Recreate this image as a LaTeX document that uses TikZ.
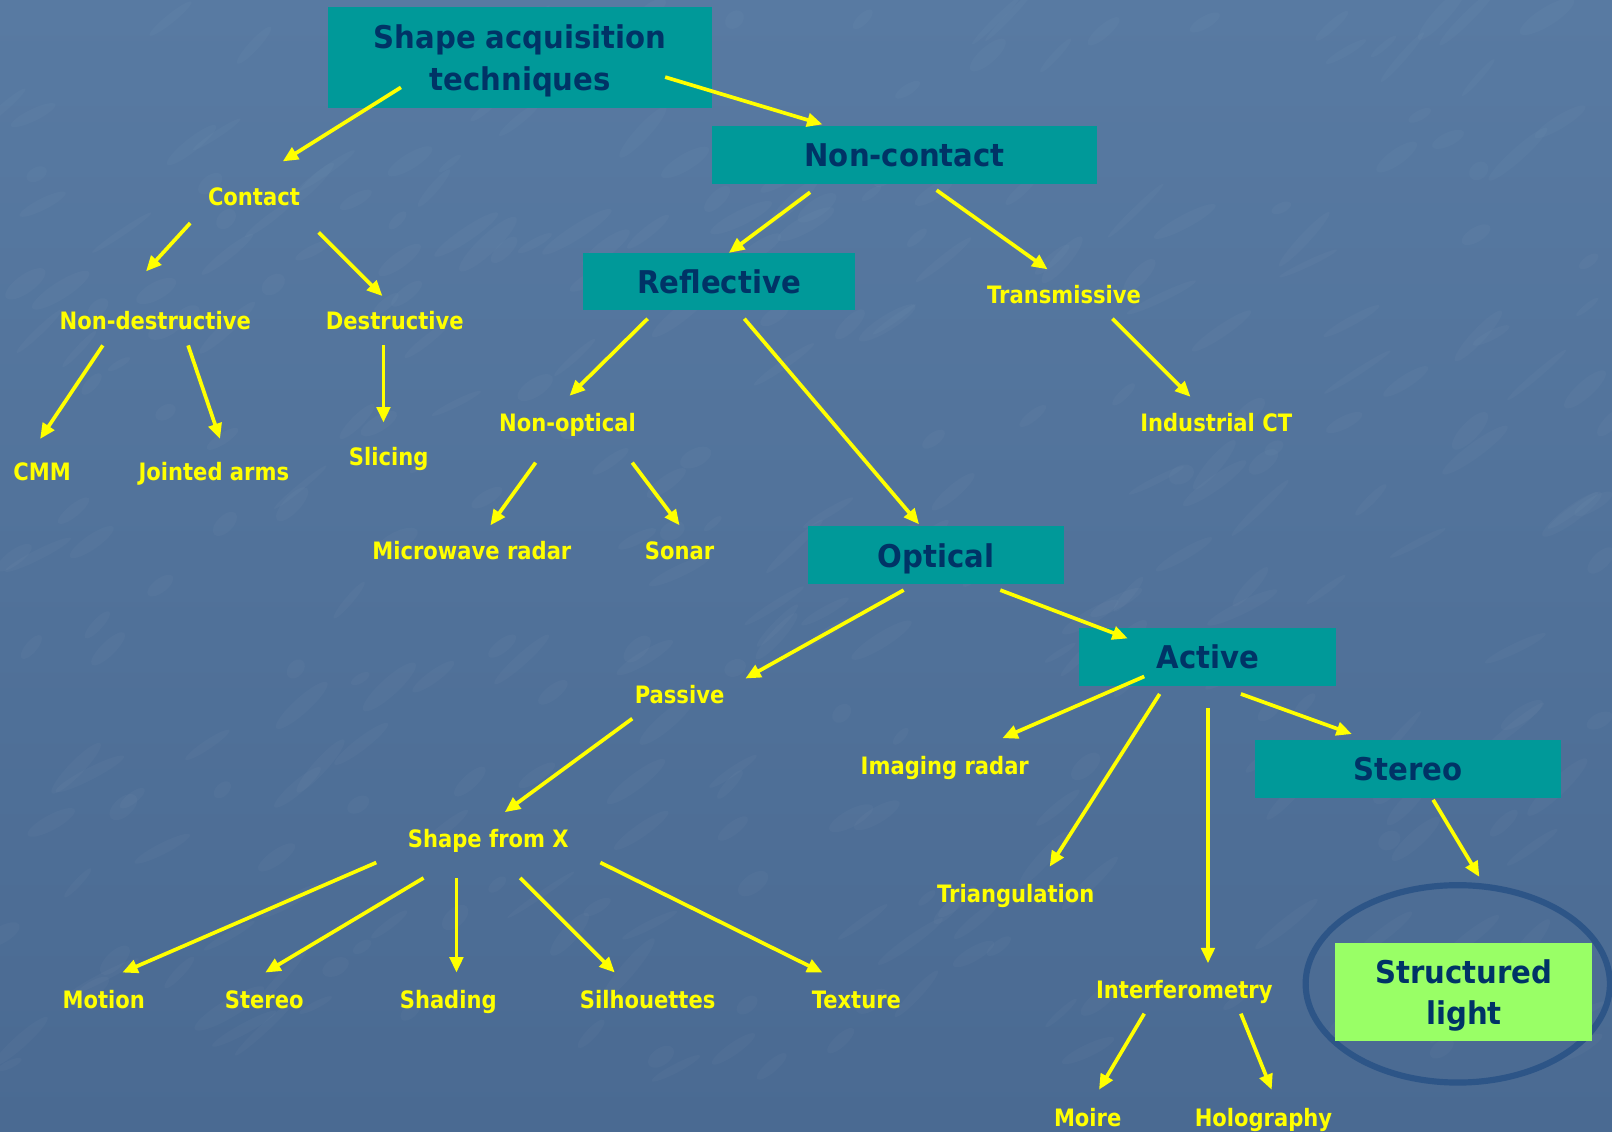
\documentclass[tikz,border=0pt]{standalone}
\usepackage{fontspec}
\setmainfont{DejaVu Sans}
\newfontfamily\lblfont{DejaVu Sans}[FakeStretch=0.88]
\newfontfamily\boxfont{DejaVu Sans}[FakeStretch=0.93]
\usetikzlibrary{arrows.meta,calc,shapes.geometric}
\definecolor{bgtop}{RGB}{88,122,162}
\definecolor{bgbot}{RGB}{74,106,146}
\definecolor{tealbox}{RGB}{0,153,153}
\definecolor{navytxt}{RGB}{0,51,102}
\definecolor{lgreen}{RGB}{153,255,102}
\definecolor{ringblue}{RGB}{45,85,135}
\definecolor{yel}{RGB}{255,255,0}
\tikzset{
  lbl/.style={text=yel,font=\lblfont\fontsize{23.3}{28}\selectfont\bfseries,inner sep=0pt,text height=17pt,text depth=0pt},
  boxn/.style={fill=tealbox,text=navytxt,font=\boxfont\fontsize{30.5}{40}\selectfont\bfseries,inner sep=0pt,align=center,text depth=0pt},
  arr/.style={draw=yel,line width=3.6pt,-{Triangle[length=15pt,width=13pt]}},
  streak/.style={fill=white,opacity=0.025}
}
\begin{document}
\begin{tikzpicture}[x=1pt,y=-1pt]
\shade[top color=bgtop,bottom color=bgbot] (0,0) rectangle (1568,1101);
\useasboundingbox (0,0) rectangle (1568,1101);
\pgfmathsetseed{11}
\foreach \i in {1,...,320}{
  \pgfmathsetmacro{\px}{rnd*1568}
  \pgfmathsetmacro{\py}{rnd*1040}
  \pgfmathsetmacro{\rl}{10+rnd*30}
  \pgfmathsetmacro{\ang}{25+rnd*25}
  \fill[streak,rotate around={\ang:(\px,\py)}] (\px,\py) ellipse ({\rl pt} and {3+rnd*6 pt});
}
% boxes
\node[boxn,minimum width=374pt,minimum height=99pt,text depth=-3pt] (title) at (506,56) {Shape acquisition\\techniques};
\node[boxn,minimum width=374pt,minimum height=56pt] (noncontact) at (880,151) {Non-contact};
\node[boxn,minimum width=265pt,minimum height=56pt] (reflective) at (699.5,274) {Reflective};
\node[boxn,minimum width=249pt,minimum height=56pt] (optical) at (910.5,540) {Optical};
\node[boxn,minimum width=250pt,minimum height=56pt] (active) at (1175,639) {Active};
\node[boxn,minimum width=297pt,minimum height=56pt] (stereob) at (1369.5,748) {Stereo};
\node[draw=ringblue,line width=6pt,ellipse,minimum width=296pt,minimum height=192pt,inner sep=0pt] (ring) at (1418,957) {};
\node[boxn,fill=lgreen,font=\boxfont\fontsize{30.5}{39}\selectfont\bfseries,minimum width=250pt,minimum height=95pt,text depth=-1pt] (structured) at (1424,965) {Structured\\light};
% labels
\node[lbl] (contact) at (247,191) {Contact};
\node[lbl] (nondestr) at (151,312) {Non-destructive};
\node[lbl] (destr) at (384,312) {Destructive};
\node[lbl] (cmm) at (41,459) {CMM};
\node[lbl] (jointed) at (208,459) {Jointed arms};
\node[lbl] (slicing) at (378,444) {Slicing};
\node[lbl] (transm) at (1035,287) {Transmissive};
\node[lbl] (indct) at (1183,411) {Industrial CT};
\node[lbl] (nonopt) at (552,411) {Non-optical};
\node[lbl] (microw) at (459,536) {Microwave radar};
\node[lbl] (sonar) at (661,536) {Sonar};
\node[lbl] (passive) at (661,676) {Passive};
\node[lbl] (imaging) at (919,745) {Imaging radar};
\node[lbl] (shapex) at (475,816) {Shape from X};
\node[lbl] (triang) at (988,869) {Triangulation};
\node[lbl] (motion) at (101,972) {Motion};
\node[lbl] (stereoy) at (257,972) {Stereo};
\node[lbl] (shading) at (436,972) {Shading};
\node[lbl] (silh) at (630,972) {Silhouettes};
\node[lbl] (texture) at (833,972) {Texture};
\node[lbl] (interf) at (1152,963) {Interferometry};
\node[lbl] (moire) at (1058,1087) {Moire};
\node[lbl] (holo) at (1229,1087) {Holography};
% connectors
\draw[arr] ($(title)+(-116,29)$) -- ($(contact)+(28,-34)$);
\draw[arr] ($(title)+(141,19)$) -- ($(noncontact)+(-80,-30)$);
\draw[arr] ($(contact)+(-62,26)$) -- ($(nondestr)+(-9,-48)$);
\draw[arr] ($(contact)+(63,35)$) -- ($(destr)+(-12,-24)$);
\draw[arr] ($(nondestr)+(-51,24)$) -- ($(cmm)+(-2,-32)$);
\draw[arr] ($(nondestr)+(32,24)$) -- ($(jointed)+(6,-32)$);
\draw[arr] ($(destr)+(-11,24)$) -- ($(slicing)+(-5,-33)$);
\draw[arr] ($(noncontact)+(-92,36)$) -- ($(reflective)+(9.5,-28)$);
\draw[arr] ($(noncontact)+(31,34)$) -- ($(transm)+(-16,-25)$);
\draw[arr] ($(transm)+(47,23)$) -- ($(indct)+(-25,-25)$);
\draw[arr] ($(reflective)+(-69.5,36)$) -- ($(nonopt)+(2,-26)$);
\draw[arr] ($(reflective)+(24.5,36)$) -- ($(optical)+(-16.5,-30)$);
\draw[arr] ($(nonopt)+(-31,39)$) -- ($(microw)+(18,-25)$);
\draw[arr] ($(nonopt)+(63,39)$) -- ($(sonar)+(0,-25)$);
\draw[arr] ($(optical)+(-31.5,34)$) -- ($(passive)+(64,-16)$);
\draw[arr] ($(optical)+(62.5,34)$) -- ($(active)+(-78,-18)$);
\draw[arr] ($(passive)+(-46,23)$) -- ($(shapex)+(16,-26)$);
\draw[arr] ($(active)+(-62,19)$) -- ($(imaging)+(56,-27)$);
\draw[arr] ($(active)+(-47,36)$) -- ($(triang)+(33,-26)$);
\draw[arr] ($(active)+(0,50)$) -- ($(interf)+(23,-26)$);
\draw[arr] ($(active)+(32,36)$) -- ($(stereob)+(-54.5,-34)$);
\draw[arr] ($(stereob)+(24.5,30)$) -- ($(structured)+(15,-112)$);
\draw[arr] ($(shapex)+(-109,23)$) -- ($(motion)+(18,-26)$);
\draw[arr] ($(shapex)+(-63,38)$) -- ($(stereoy)+(1,-26)$);
\draw[arr] ($(shapex)+(-31,38)$) -- ($(shading)+(8,-26)$);
\draw[arr] ($(shapex)+(31,38)$) -- ($(silh)+(-32,-26)$);
\draw[arr] ($(shapex)+(109,23)$) -- ($(texture)+(-33,-26)$);
\draw[arr] ($(interf)+(-39,23)$) -- ($(moire)+(11,-27)$);
\draw[arr] ($(interf)+(55,23)$) -- ($(holo)+(8,-27)$);
\end{tikzpicture}
\end{document}
